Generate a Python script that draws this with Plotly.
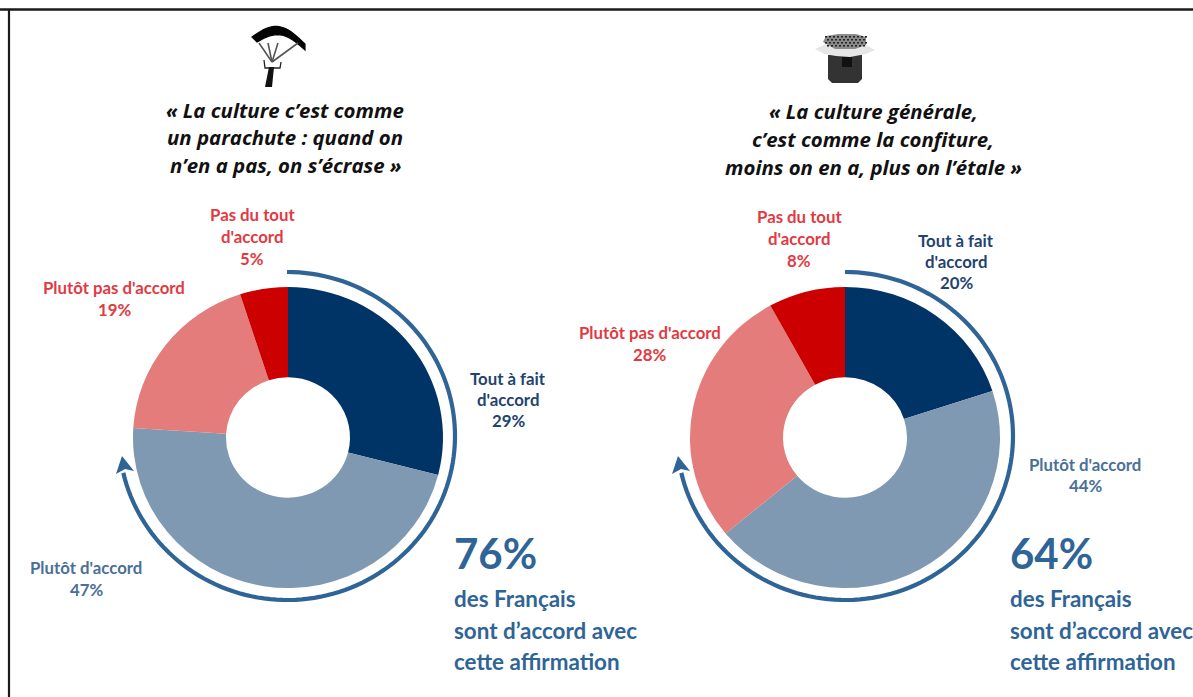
import numpy as np
import plotly.graph_objects as go

W, H = 1193, 697

categories = ["Tout à fait d'accord", "Plutôt d'accord", "Plutôt pas d'accord", "Pas du tout d'accord"]
values_parachute = [29, 47, 19, 5]
values_confiture = [20, 44, 28, 8]
slice_colors = ["#003366", "#7F99B2", "#E47C7C", "#CC0000"]
label_colors = ["#1F4470", "#4A7098", "#E23A42", "#E23A42"]
quote_parachute = ["« La culture c’est comme", "un parachute : quand on", "n’en a pas, on s’écrase »"]
quote_confiture = ["« La culture générale,", "c’est comme la confiture,", "moins on en a, plus on l’étale »"]
agree_parachute = "76%"
agree_confiture = "64%"
agree_lines = ["des Français", "sont d’accord avec", "cette affirmation"]

ARC = "#2F6497"
FONT = "Lato"
QUOTE_FONT = "Open Sans"


def px(x):
    return x / W


def py(y):
    return 1 - y / H


def path(points, close=False):
    s = "M " + " L ".join(f"{px(x):.5f},{py(y):.5f}" for x, y in points)
    return s + (" Z" if close else "")


shapes = []
annotations = []


def text(x, y, s, size, color, anchor="center", bold=True, italic=False, family=FONT):
    t = f"<b>{s}</b>" if bold else s
    if italic:
        t = f"<i>{t}</i>"
    annotations.append(dict(
        x=px(x), y=py(y), xref="paper", yref="paper", text=t, showarrow=False,
        xanchor=anchor, yanchor="middle", align=anchor if anchor != "center" else "center",
        font=dict(family=family, size=size, color=color), borderpad=0, borderwidth=0,
    ))


def poly(points, fill=None, line=None, width=0, close=True):
    shapes.append(dict(
        type="path", xref="paper", yref="paper", path=path(points, close),
        fillcolor=fill if fill else "rgba(0,0,0,0)",
        line=dict(color=line if line else "rgba(0,0,0,0)", width=width),
    ))


def arc_with_arrow(cx, head_dx):
    cy, rx, ry = 436, 168, 164
    a = np.radians(np.linspace(0, 257, 120))
    poly(list(zip(cx + rx * np.sin(a), cy - ry * np.cos(a))), line=ARC, width=4.2, close=False)
    poly([(cx + head_dx - 165, 456), (cx + head_dx - 171, 474),
          (cx + head_dx - 162, 469), (cx + head_dx - 153, 471)], fill=ARC)


def labels(cx_specs, values):
    for (x, ys, lines), v, c in zip(cx_specs, values, label_colors):
        for y, s in zip(ys, lines + [f"{v}%"]):
            text(x, y, s, 16.8, c)


fig = go.Figure()
R = 150.5
CY = 437.5
STRETCH = 1.03
CENTERS = (288, 845)
for cx, vals in zip(CENTERS, (values_parachute, values_confiture)):
    fig.add_trace(go.Pie(
        labels=categories, values=vals, sort=False, direction="clockwise", rotation=0,
        hole=0.4, textinfo="none", hoverinfo="label+percent", showlegend=False,
        marker=dict(colors=slice_colors, line=dict(width=0)),
        domain=dict(x=[px(cx - R), px(cx + R)], y=[py(CY + R), py(CY - R)]),
    ))

# top and left frame
poly([(0, 9.5), (W, 9.5)], line="#1A1A1A", width=2.4, close=False)
poly([(9, 9.5), (9, H)], line="#1A1A1A", width=2.2, close=False)

arc_with_arrow(287, 0)
arc_with_arrow(845, -2)

labels([
    (508, [378.5, 399.5, 420.5], ["Tout à fait", "d'accord"]),
    (86, [567.5, 589.5], ["Plutôt d'accord"]),
    (114, [287.5, 309.5], ["Plutôt pas d'accord"]),
    (252, [214.5, 236.5, 258.5], ["Pas du tout", "d'accord"]),
], values_parachute)
labels([
    (956, [240.5, 261.5, 282.5], ["Tout à fait", "d'accord"]),
    (1085, [464.5, 485.5], ["Plutôt d'accord"]),
    (650, [332.5, 354.5], ["Plutôt pas d'accord"]),
    (799, [216.5, 238.5, 260.5], ["Pas du tout", "d'accord"]),
], values_confiture)

for y, s in zip((110, 137, 165), quote_parachute):
    text(285, y, s, 20.4, "#111111", italic=True, family=QUOTE_FONT)
for y, s in zip((111, 139, 167), quote_confiture):
    text(873, y, s, 20.4, "#111111", italic=True, family=QUOTE_FONT)

for x, big in ((454, agree_parachute), (1010, agree_confiture)):
    text(x, 553, big, 42, ARC, anchor="left")
    for y, s in zip((598, 630, 661), agree_lines):
        text(x, y, s, 22.4, ARC, anchor="left")

# parachute icon
t = np.linspace(0, 1, 20)
outer = [(252 + 53 * u, 37 - 14 * np.sin(np.pi * u) + 7 * u) for u in t]
inner = [(305 - 48 * u, 50 - 11 * np.sin(np.pi * u) - 8 * u) for u in t]
poly(outer + inner, fill="#050505", line="#050505", width=1.2)
for xt in (259, 268, 278, 298):
    poly([(xt, 43), (272, 62)], line="#555555", width=1.6, close=False)
poly([(264, 60), (265, 68), (280, 68), (281, 62)], line="#222222", width=1.3, close=False)
poly([(269, 67), (274, 67), (272, 87), (265, 87)], fill="#111111")

# jam jar icon
poly([(828, 55), (862, 55), (862, 79), (858, 83), (832, 83), (828, 79)], fill="#333333")
poly([(815, 49), (826, 44), (864, 44), (875, 50), (866, 54), (850, 57), (836, 56), (824, 54)],
     fill="#E6E6E6")
poly([(823, 42), (826, 36), (838, 34), (856, 34), (866, 37), (866, 45), (855, 49), (835, 49)],
     fill="#8C8C8C")
for j, yy in enumerate(range(36, 48, 3)):
    for xx in range(825 + (j % 2) * 2, 866, 4):
        poly([(xx, yy), (xx + 2, yy), (xx + 2, yy + 1.6), (xx, yy + 1.6)], fill="#222222")
poly([(842, 57), (852, 57), (852, 67), (842, 67)], fill="#111111")

fig.update_layout(
    width=W, height=H, autosize=False, margin=dict(l=0, r=0, t=0, b=0),
    paper_bgcolor="white", plot_bgcolor="white", showlegend=False,
    shapes=shapes, annotations=annotations,
)
post = f"""
document.body.style.margin='0';document.body.style.overflow='hidden';
var cs={list(CENTERS)};
document.querySelectorAll('.pielayer .trace').forEach(function(g,i){{
  g.setAttribute('transform','translate('+cs[i]+',0) scale({STRETCH},1) translate('+(-cs[i])+',0)');
}});
"""
fig.write_html("out.html", post_script=post, config={"displayModeBar": False})
